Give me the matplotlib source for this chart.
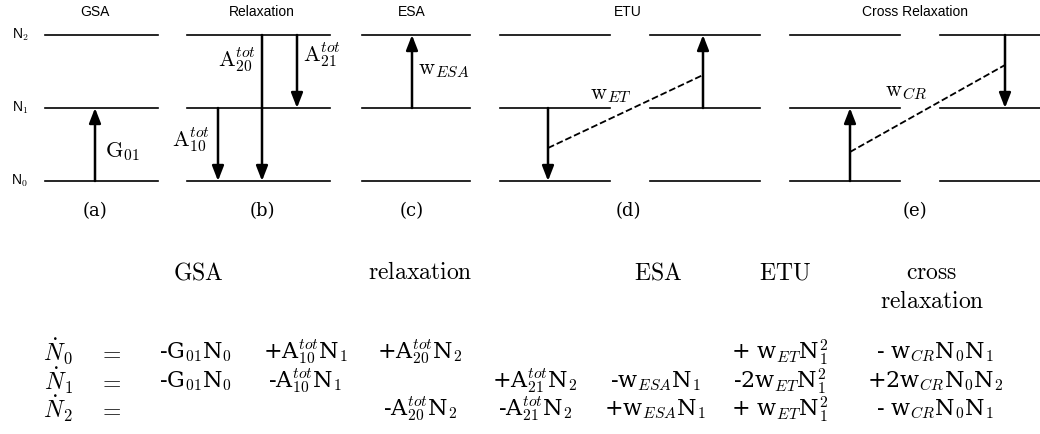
import matplotlib
matplotlib.use("Agg")
import matplotlib.pyplot as plt

plt.rcParams["mathtext.fontset"] = "cm"

# energy levels (pixel rows) and panels
LEVEL_NAMES = ["N$_2$", "N$_1$", "N$_0$"]
LEVEL_Y = [35, 108, 181]
PANEL_TITLES = ["GSA", "Relaxation", "ESA", "ETU", "Cross Relaxation"]
PANEL_TAGS = ["(a)", "(b)", "(c)", "(d)", "(e)"]
PANEL_X = [95, 262, 412, 628, 915]
# level segments per panel: (x0, x1)
SEGMENTS = [[(45, 158)], [(187, 330)], [(362, 470)],
            [(500, 610), (650, 760)], [(790, 900), (940, 1040)]]
# solid arrows: x, y_from, y_to
ARROWS = [(95, 181, 108), (262, 35, 181), (297, 35, 108), (218, 108, 181),
          (412, 108, 35), (548, 108, 181), (703, 108, 35),
          (850, 181, 108), (1005, 35, 108)]
DASHED = [((548, 148), (703, 75)), ((850, 152), (1005, 65))]
ARROW_LABELS = [(105, 152, r"$\mathrm{G}_{01}$"), (218, 60, r"$\mathrm{A}_{20}^{tot}$"),
                (303, 55, r"$\mathrm{A}_{21}^{tot}$"), (172, 140, r"$\mathrm{A}_{10}^{tot}$"),
                (418, 70, r"$\mathrm{w}_{ESA}$"), (590, 95, r"$\mathrm{w}_{ET}$"),
                (885, 92, r"$\mathrm{w}_{CR}$")]

HEADINGS = [(198, 272, "GSA"), (420, 272, "relaxation"), (658, 272, "ESA"),
            (785, 272, "ETU"), (932, 272, "cross"), (932, 301, "relaxation")]
ROW_LHS = [r"$\dot{N}_0$", r"$\dot{N}_1$", r"$\dot{N}_2$"]
COL_X = [195, 305, 420, 535, 655, 780, 935]
TERMS = [
    [r"-G$_{01}$N$_0$", r"+A$_{10}^{tot}$N$_1$", r"+A$_{20}^{tot}$N$_2$", "", "",
     r"+ w$_{ET}$N$_1^2$", r"- w$_{CR}$N$_0$N$_1$"],
    [r"-G$_{01}$N$_0$", r"-A$_{10}^{tot}$N$_1$", "", r"+A$_{21}^{tot}$N$_2$",
     r"-w$_{ESA}$N$_1$", r"-2w$_{ET}$N$_1^2$", r"+2w$_{CR}$N$_0$N$_2$"],
    ["", "", r"-A$_{20}^{tot}$N$_2$", r"-A$_{21}^{tot}$N$_2$", r"+w$_{ESA}$N$_1$",
     r"+ w$_{ET}$N$_1^2$", r"- w$_{CR}$N$_0$N$_1$"],
]
ROW_Y = [352, 381, 409]


def main():
    fig = plt.figure(figsize=(10.4, 4.34), dpi=100)
    ax = fig.add_axes([0, 0, 1, 1])
    ax.set_xlim(0, 1040)
    ax.set_ylim(434, 0)
    ax.axis("off")

    sans = "Liberation Sans"
    for name, y in zip(LEVEL_NAMES, LEVEL_Y):
        ax.text(20, y, name, ha="center", va="center", fontsize=10, family=sans)
    for title, tag, x in zip(PANEL_TITLES, PANEL_TAGS, PANEL_X):
        ax.text(x, 12, title, ha="center", va="center", fontsize=10, family=sans)
        ax.text(x, 211, tag, ha="center", va="center", fontsize=13, family="DejaVu Serif")
    for segs in SEGMENTS:
        for x0, x1 in segs:
            for y in LEVEL_Y:
                ax.plot([x0, x1], [y, y], color="black", lw=1.2)
    for x, y0, y1 in ARROWS:
        ax.annotate("", xy=(x, y1), xytext=(x, y0),
                    arrowprops=dict(arrowstyle="-|>,head_length=0.9,head_width=0.35",
                                    color="black", lw=1.8, shrinkA=0, shrinkB=0))
    for (x0, y0), (x1, y1) in DASHED:
        ax.plot([x0, x1], [y0, y1], color="black", lw=1.3, ls="--")
    for x, y, s in ARROW_LABELS:
        ax.text(x, y, s, ha="left", va="center", fontsize=16)

    for x, y, s in HEADINGS:
        ax.text(x, y, r"$\mathrm{%s}$" % s, ha="center", va="center", fontsize=17)
    for lhs, y, row in zip(ROW_LHS, ROW_Y, TERMS):
        ax.text(58, y, lhs, ha="center", va="center", fontsize=17)
        ax.text(110, y, "$=$", ha="center", va="center", fontsize=17)
        for x, t in zip(COL_X, row):
            if t:
                ax.text(x, y, t, ha="center", va="center", fontsize=16,
                        family="DejaVu Serif", math_fontfamily="cm")

    fig.savefig("out.png", dpi=100)


if __name__ == "__main__":
    main()
